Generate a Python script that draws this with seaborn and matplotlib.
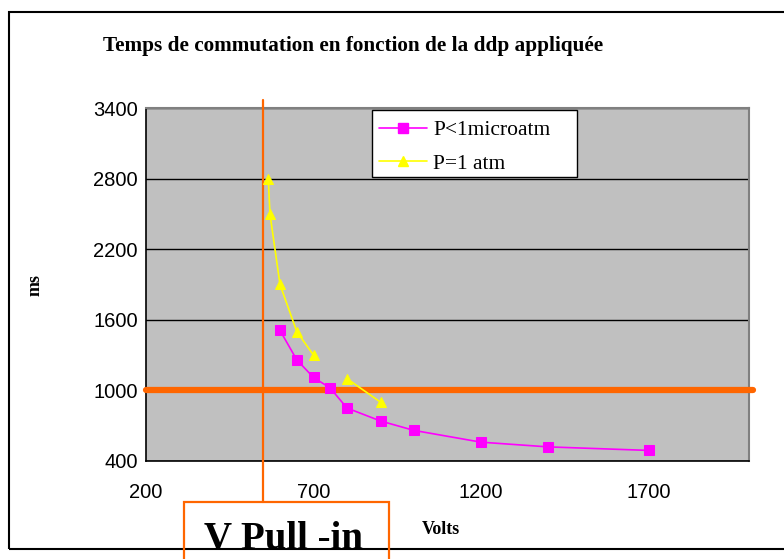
import numpy as np
import pandas as pd
import matplotlib
matplotlib.use("Agg")
import matplotlib.pyplot as plt
from matplotlib.patches import Rectangle
from matplotlib.lines import Line2D
import seaborn as sns

# Switching time vs applied voltage
volts_vide = [600, 650, 700, 750, 800, 900, 1000, 1200, 1400, 1700]
ms_vide = [1510, 1260, 1110, 1020, 850, 740, 660, 560, 520, 490]

volts_air = [565, 570, 600, 650, 700, 750, 800, 900]
ms_air = [2800, 2500, 1900, 1500, 1300, np.nan, 1100, 900]

labels = ["P<1microatm", "P=1 atm"]
x_ticks = [200, 700, 1200, 1700]
y_ticks = [400, 1000, 1600, 2200, 2800, 3400]
v_pull_in = 550
seuil_ms = 1000

sns.set_theme(style="white")
plt.rcParams["font.family"] = ["Liberation Sans", "DejaVu Sans"]
plt.rcParams["text.color"] = "black"
plt.rcParams["axes.labelcolor"] = "black"

W, H = 784, 559
fig = plt.figure(figsize=(W / 100, H / 100), dpi=100)
fig.patch.set_facecolor("white")
ax = fig.add_axes([146 / W, 1 - 461 / H, (749 - 146) / W, (461 - 108) / H])
ax.set_facecolor("#C0C0C0")

PINK = "#FF00FF"
YELLOW = "#FFFF00"
ORANGE = "#FF6600"

df_vide = pd.DataFrame({"V": volts_vide, "t": ms_vide})
df_air = pd.DataFrame({"V": volts_air, "t": ms_air})
# a blank reading splits the curve into separate pieces
df_air["seg"] = df_air["t"].isna().cumsum()
df_air = df_air.dropna()

sns.lineplot(data=df_vide, x="V", y="t", ax=ax, color=PINK, lw=1.2,
             marker="s", markersize=7.5, markeredgecolor=PINK, zorder=4)
sns.lineplot(data=df_air, x="V", y="t", units="seg", estimator=None, ax=ax,
             color=YELLOW, lw=1.2, marker="^", markersize=7.5,
             markeredgecolor=YELLOW, zorder=4)

ax.set_xlim(200, 2000)
ax.set_ylim(400, 3400)
ax.set_xticks(x_ticks)
ax.set_yticks(y_ticks)
ax.set_xticklabels([str(v) for v in x_ticks])
ax.set_yticklabels([str(v) for v in y_ticks])
ax.tick_params(axis="both", labelsize=14.5, colors="black", direction="out",
               length=5, width=1)
ax.tick_params(axis="x", pad=11)
ax.tick_params(axis="y", pad=1)
ax.yaxis.grid(True, color="black", lw=1)
ax.xaxis.grid(False)
ax.set_axisbelow(True)
for s in ["left", "bottom"]:
    ax.spines[s].set_color("black")
    ax.spines[s].set_linewidth(1.2)
for s in ["top", "right"]:
    ax.spines[s].set_color("#808080")
    ax.spines[s].set_linewidth(1.5)

ax.set_xlabel("")
ax.set_ylabel("")

# reference lines
ax.axhline(seuil_ms, xmin=0, xmax=1.006, color=ORANGE, lw=4.5, zorder=3,
           clip_on=False)
ax.axvline(v_pull_in, ymin=(461 - 502) / 353, ymax=(461 - 100) / 353,
           color=ORANGE, lw=1.6, zorder=3, clip_on=False)

serif = ["Liberation Serif", "DejaVu Serif"]
fig.text(353 / W, 1 - 46 / H,
         "Temps de commutation en fonction de la ddp appliquée",
         ha="center", va="center", fontsize=15.3, fontweight="bold",
         family=serif, color="black")
fig.text(35 / W, 1 - 285 / H, "ms", rotation=90, ha="center", va="center",
         fontsize=13, fontweight="bold", family=serif, color="black")
fig.text(441 / W, 1 - 530 / H, "Volts", ha="center", va="center",
         fontsize=13, fontweight="bold", family=serif, color="black")

# outer chart frame
fig.patches.append(Rectangle((9 / W, 1 - 549 / H), 1.0, (549 - 12) / H,
                             transform=fig.transFigure, fill=False,
                             edgecolor="black", lw=1.5))
# V Pull-in annotation box
fig.patches.append(Rectangle((184 / W, 1 - 580 / H), (389 - 184) / W,
                             (580 - 502) / H, transform=fig.transFigure,
                             fill=False, edgecolor=ORANGE, lw=1.6))
fig.text(284 / W, 1 - 549 / H, "V Pull -in", ha="center", va="baseline",
         fontsize=28, fontweight="bold", family=serif, color="black")

# legend box drawn as its own patch, entries placed inside it
lx0, lx1, ly0, ly1 = 372, 577, 110, 177
ax.add_patch(Rectangle(((lx0 - 146) / 603, (461 - ly1) / 353),
                       (lx1 - lx0) / 603, (ly1 - ly0) / 353,
                       transform=ax.transAxes, facecolor="white",
                       edgecolor="black", lw=1, zorder=5, clip_on=False))
handles = [
    Line2D([], [], color=PINK, lw=1.2, marker="s", markersize=7.5),
    Line2D([], [], color=YELLOW, lw=1.2, marker="^", markersize=7.5),
]
leg = ax.legend(handles, labels, loc="upper left",
                bbox_to_anchor=((lx0 + 3 - 146) / 603, (461 - ly0 - 6) / 353),
                frameon=False, borderaxespad=0,
                prop={"family": serif, "size": 15.5}, handlelength=2.2,
                handletextpad=0.3, borderpad=0.2, labelspacing=0.62)
leg.set_zorder(6)
for t in leg.get_texts():
    t.set_color("black")

fig.savefig("out.png", dpi=100)
